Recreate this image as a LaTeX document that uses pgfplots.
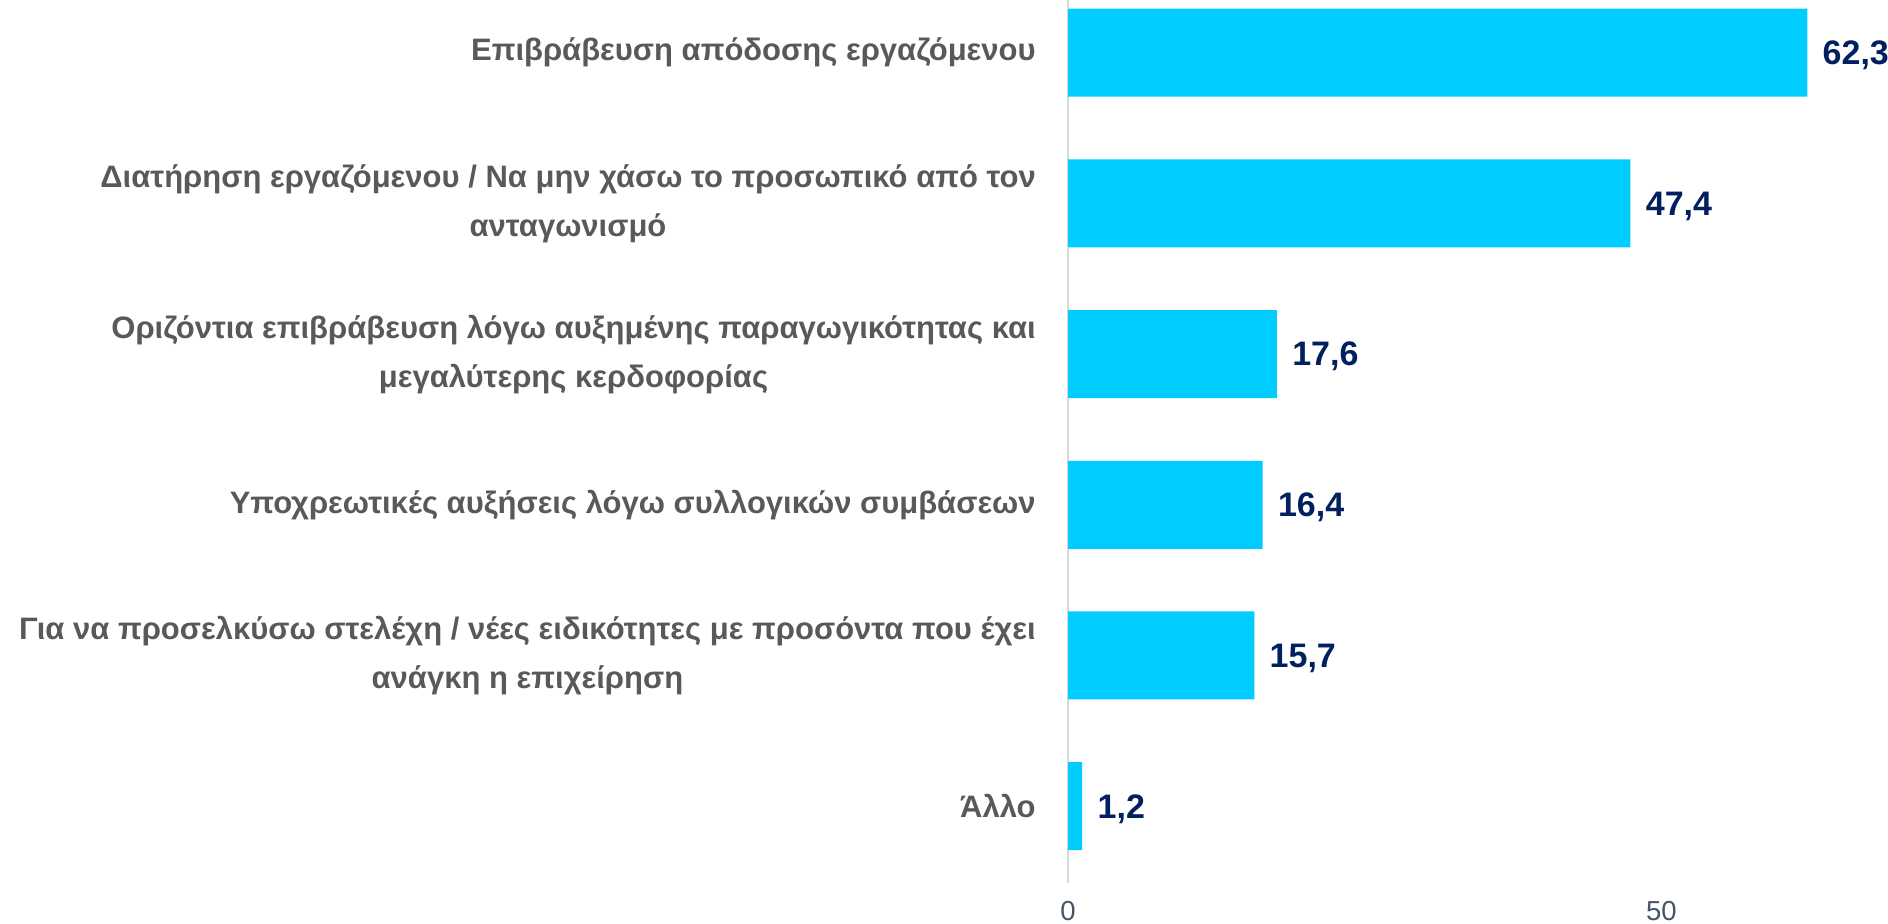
\documentclass[border=0pt]{standalone}
\usepackage{fontspec}
\setmainfont{Liberation Sans}
\usepackage{pgfplots}
\pgfplotsset{compat=1.18}

\definecolor{barblue}{HTML}{00CCFF}
\definecolor{valnavy}{HTML}{002060}
\definecolor{labgray}{HTML}{595959}
\definecolor{tickgray}{HTML}{44546A}
\definecolor{axgray}{HTML}{D9D9D9}

\begin{document}
\begin{tikzpicture}
\path[use as bounding box] (0,0) rectangle (944pt,462pt);
\begin{axis}[
    at={(534pt,20.5pt)}, anchor=south west,
    scale only axis,
    width=410pt, height=441.5pt,
    xbar, bar width=44pt, bar shift=0pt,
    xmin=0, xmax=69.1,
    ymin=-0.35, ymax=5.51,
    y dir=reverse,
    axis lines*=left,
    x axis line style={draw=none},
    y axis line style={draw=axgray, line width=1.2pt},
    major tick length=0pt,
    xtick={0,50},
    ytick={0,1,2,3,4,5},
    yticklabels={
        {Επιβράβευση απόδοσης εργαζόμενου},
        {Διατήρηση εργαζόμενου / Να μην χάσω το προσωπικό από τον\\ανταγωνισμό},
        {Οριζόντια επιβράβευση λόγω αυξημένης παραγωγικότητας και\\μεγαλύτερης κερδοφορίας},
        {Υποχρεωτικές αυξήσεις λόγω συλλογικών συμβάσεων},
        {Για να προσελκύσω στελέχη / νέες ειδικότητες με προσόντα που έχει\\ανάγκη η επιχείρηση},
        {Άλλο}},
    yticklabel style={align=center, anchor=east, inner sep=0pt, xshift=-16pt,
        text=labgray, font=\fontsize{15.5pt}{24.5pt}\selectfont\bfseries},
    xticklabel style={anchor=north, inner sep=0pt, yshift=-9pt,
        text=tickgray, font=\fontsize{13.75pt}{16pt}\selectfont},
    /pgf/number format/assume math mode=true,
    nodes near coords,
    nodes near coords style={anchor=west, inner sep=0pt, xshift=7.5pt, text depth=0pt,
        text=valnavy, font=\fontsize{17pt}{20pt}\selectfont\bfseries,
        /pgf/number format/.cd, fixed, fixed zerofill, precision=1, use comma},
]
\addplot[fill=barblue, draw=none] coordinates {
    (62.3,0) (47.4,1) (17.6,2) (16.4,3) (15.7,4) (1.2,5)
};
\end{axis}
\end{tikzpicture}
\end{document}
